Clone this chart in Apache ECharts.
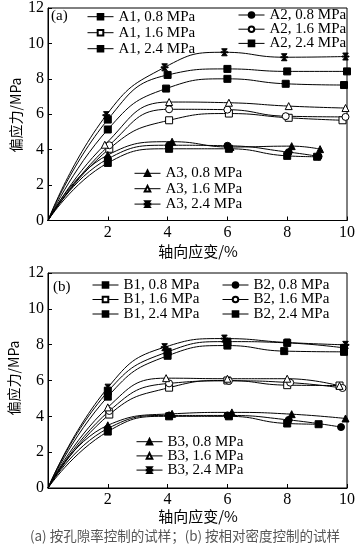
<!DOCTYPE html>
<html><head><meta charset="utf-8">
<script src="https://cdn.jsdelivr.net/npm/echarts@6/dist/echarts.min.js"></script>
<style>html,body{margin:0;padding:0;background:#fff}#c{width:358px;height:549px}</style>
</head><body><div id="c"></div>
<script>
// ---- data (x: axial strain %, y: deviatoric stress MPa) ----
const xTicks = [0, 2, 4, 6, 8, 10];
const yTicks = [0, 2, 4, 6, 8, 10, 12];

const A1_08 = [[0,0],[2.0,3.25],[4.05,4.05],[6.05,4.05],[8.0,3.65],[9.0,3.6]];
const A1_16 = [[0,0],[2.05,4.05],[4.05,5.66],[6.05,6.04],[8.05,5.8],[9.85,5.66]];
const A1_24 = [[0,0],[2.0,5.14],[3.95,7.45],[6.0,8.0],[7.95,7.72],[9.9,7.65]];
const A2_08 = [[0,0],[2.0,3.48],[4.05,4.25],[6.0,4.22],[8.05,3.86],[9.05,3.62]];
const A2_16 = [[0,0],[2.05,4.25],[4.05,6.28],[6.0,6.26],[7.95,5.89],[9.95,5.85]];
const A2_24 = [[0,0],[2.0,5.7],[4.0,8.22],[6.0,8.56],[8.0,8.42],[10.0,8.42]];
const A3_08 = [[0,0],[2.0,3.7],[4.15,4.45],[6.1,4.15],[8.15,4.2],[9.1,4.03]];
const A3_16 = [[0,0],[1.9,4.28],[4.05,6.69],[6.05,6.65],[8.05,6.46],[9.95,6.35]];
const A3_24 = [[0,0],[1.95,5.95],[3.9,8.65],[5.9,9.5],[7.9,9.22],[9.95,9.26]];

const B1_08 = [[0,0],[2.0,3.15],[4.05,4.0],[6.05,4.0],[8.0,3.6],[9.05,3.56]];
const B1_16 = [[0,0],[2.05,4.1],[4.05,5.6],[6.0,6.0],[8.0,5.74],[9.75,5.72]];
const B1_24 = [[0,0],[2.0,5.1],[4.0,7.38],[6.0,7.95],[7.9,7.64],[9.9,7.6]];
const B2_08 = [[0,0],[2.0,3.32],[4.05,4.05],[6.0,4.05],[8.05,3.8],[9.8,3.4]];
const B2_16 = [[0,0],[2.05,4.3],[4.05,5.84],[6.05,5.98],[8.1,5.88],[9.85,5.58]];
const B2_24 = [[0,0],[2.0,5.38],[4.0,7.6],[6.0,8.17],[8.0,8.1],[9.9,7.82]];
const B3_08 = [[0,0],[2.0,3.5],[4.15,4.14],[6.15,4.22],[8.15,4.12],[9.95,3.88]];
const B3_16 = [[0,0],[2.0,4.5],[3.95,6.13],[6.0,6.1],[8.0,6.1],[9.75,5.7]];
const B3_24 = [[0,0],[2.0,5.6],[3.9,7.86],[5.9,8.34],[8.0,8.12],[9.95,7.99]];

const STAR = 'path://M1,0L9,0L5.7,4.3L10,4.3L10,5.7L5.7,5.7L9,10L1,10L4.3,5.7L0,5.7L0,4.3L4.3,4.3Z';
const SQ_F = {symbol:'rect', fill:'#000'};
const SQ_O = {symbol:'rect', fill:'#fff'};
const CI_F = {symbol:'circle', fill:'#000'};
const CI_O = {symbol:'circle', fill:'#fff'};
const TR_F = {symbol:'triangle', fill:'#000'};
const TR_O = {symbol:'triangle', fill:'#fff'};
const ST_F = {symbol:STAR, fill:'#000'};

const seriesDefs = [
  ['A1, 0.8 MPa', A1_08, SQ_F, 0], ['A1, 1.6 MPa', A1_16, SQ_O, 0], ['A1, 2.4 MPa', A1_24, SQ_F, 0],
  ['A2, 0.8 MPa', A2_08, CI_F, 0], ['A2, 1.6 MPa', A2_16, CI_O, 0], ['A2, 2.4 MPa', A2_24, SQ_F, 0],
  ['A3, 0.8 MPa', A3_08, TR_F, 0], ['A3, 1.6 MPa', A3_16, TR_O, 0], ['A3, 2.4 MPa', A3_24, ST_F, 0],
  ['B1, 0.8 MPa', B1_08, SQ_F, 1], ['B1, 1.6 MPa', B1_16, SQ_O, 1], ['B1, 2.4 MPa', B1_24, SQ_F, 1],
  ['B2, 0.8 MPa', B2_08, CI_F, 1], ['B2, 1.6 MPa', B2_16, CI_O, 1], ['B2, 2.4 MPa', B2_24, SQ_F, 1],
  ['B3, 0.8 MPa', B3_08, TR_F, 1], ['B3, 1.6 MPa', B3_16, TR_O, 1], ['B3, 2.4 MPa', B3_24, ST_F, 1]
];

const serif = '"Liberation Serif","DejaVu Serif",serif';
const cjk = '"Noto Sans CJK SC",sans-serif';

function xAx(i){
  return {type:'value', gridIndex:i, min:0, max:10, interval:2,
    axisLine:{lineStyle:{color:'#000',width:1}},
    axisTick:{inside:true,length:4,lineStyle:{color:'#000'}},
    splitLine:{show:false},
    axisLabel:{color:'#000',fontFamily:serif,fontSize:16,margin:4,
      formatter:v=>v===0?'':String(v)}};
}
function yAx(i){
  return {type:'value', gridIndex:i, min:0, max:12, interval:2,
    axisLine:{show:true,lineStyle:{color:'#000',width:1}},
    axisTick:{show:true,inside:true,length:4,lineStyle:{color:'#000'}},
    splitLine:{show:false},
    axisLabel:{color:'#000',fontFamily:serif,fontSize:16,margin:4}};
}

const series = seriesDefs.map(([name,data,st,g])=>({
  name, type:'line', xAxisIndex:g, yAxisIndex:g, smooth:0.5,
  data: data.map((p,k)=>k===0?{value:p,symbol:'none'}:p),
  symbol: st.symbol, symbolSize: 7,
  lineStyle:{color:'#000',width:1},
  itemStyle:{color:st.fill,borderColor:'#000',borderWidth:1},
  emphasis:{disabled:true}, animation:false
}));

function leg(names,left,top,gap){
  return {data:names, left, top, orient:'vertical', itemWidth:26, itemHeight:7, itemGap:gap,
    padding:0, selectedMode:false,
    lineStyle:{color:'#000',width:1},
    textStyle:{fontFamily:serif,fontSize:15,color:'#000'}};
}

const chart = echarts.init(document.getElementById('c'), null, {renderer:'canvas'});
chart.setOption({
  animation:false,
  grid:[
    {left:48,top:7.5,width:299,height:213,show:true,borderColor:'#000',borderWidth:1,backgroundColor:'transparent'},
    {left:48,top:273,width:299,height:215,show:true,borderColor:'#000',borderWidth:1,backgroundColor:'transparent'}
  ],
  xAxis:[xAx(0),xAx(1)],
  yAxis:[yAx(0),yAx(1)],
  legend:[
    leg(['A1, 0.8 MPa','A1, 1.6 MPa','A1, 2.4 MPa'],87,9.2,1),
    leg(['A2, 0.8 MPa','A2, 1.6 MPa','A2, 2.4 MPa'],238,7.5,-0.8),
    leg(['A3, 0.8 MPa','A3, 1.6 MPa','A3, 2.4 MPa'],134,165.8,0.4),
    leg(['B1, 0.8 MPa','B1, 1.6 MPa','B1, 2.4 MPa'],92,277.5,-0.5),
    leg(['B2, 0.8 MPa','B2, 1.6 MPa','B2, 2.4 MPa'],222,277.5,-0.5),
    leg(['B3, 0.8 MPa','B3, 1.6 MPa','B3, 2.4 MPa'],136,434.2,-0.8)
  ],
  graphic:[
    {type:'text',left:51,top:9,style:{text:'(a)',font:'15px '+serif,fill:'#000'}},
    {type:'text',left:53,top:280,style:{text:'(b)',font:'15px '+serif,fill:'#000'}},
    {type:'text',x:16,y:115,rotation:Math.PI/2,style:{text:'偏应力/MPa',font:'14px '+cjk,fill:'#000',textAlign:'center',textVerticalAlign:'middle'}},
    {type:'text',x:14,y:378,rotation:Math.PI/2,style:{text:'偏应力/MPa',font:'14px '+cjk,fill:'#000',textAlign:'center',textVerticalAlign:'middle'}},
    {type:'text',x:198,y:251,style:{text:'轴向应变/%',font:'15px '+cjk,fill:'#000',textAlign:'center',textVerticalAlign:'middle'}},
    {type:'text',x:198,y:516,style:{text:'轴向应变/%',font:'15px '+cjk,fill:'#000',textAlign:'center',textVerticalAlign:'middle'}},
    {type:'text',x:185,y:536,style:{text:'(a) 按孔隙率控制的试样；(b) 按相对密度控制的试样',font:'13.5px '+cjk,fill:'#555',textAlign:'center',textVerticalAlign:'middle'}}
  ],
  series
});
</script></body></html>
